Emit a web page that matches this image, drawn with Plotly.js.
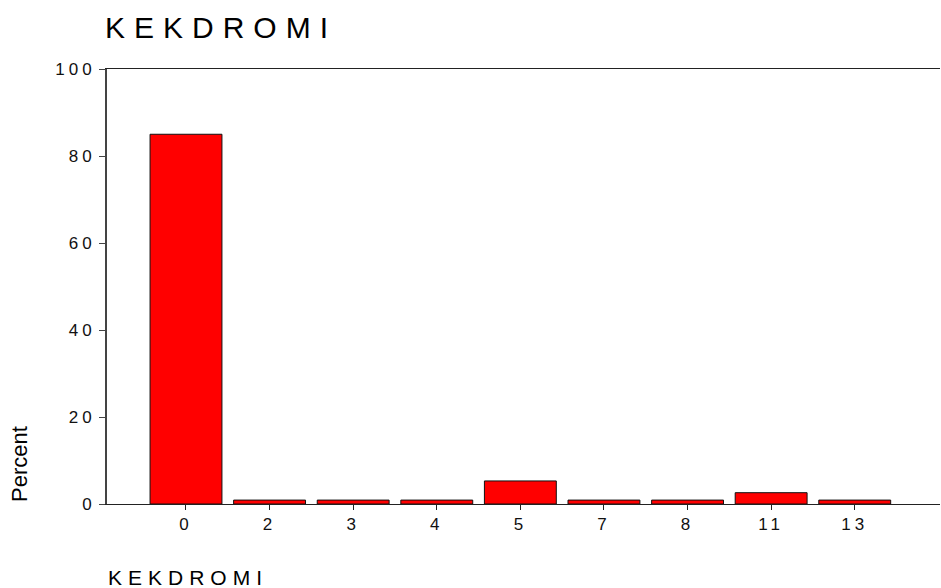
<!DOCTYPE html>
<html>
<head>
<meta charset="utf-8">
<script src="https://cdn.plot.ly/plotly-3.0.1.min.js"></script>
<style>
  html, body { margin: 0; padding: 0; background: #fff; }
  #chart { width: 941px; height: 588px; }
  .ytick text, .xtick text { letter-spacing: 4px; }
</style>
</head>
<body>
<div id="chart"></div>
<script>
const categories = ["0", "2", "3", "4", "5", "7", "8", "11", "13"];
const percents = [85.0, 0.9, 0.9, 0.9, 5.3, 0.9, 0.9, 2.6, 0.9];
const yTickValues = [0, 20, 40, 60, 80, 100];
const yTickLabels = ["0", "20", "40", "60", "80", "100"];
const chartTitle = "KEKDROMI";
const xTitle = "KEKDROMI";
const yTitle = "Percent";

const font = "Arial, 'Liberation Sans', sans-serif";

const trace = {
  type: "bar",
  x: categories,
  y: percents,
  marker: { color: "#ff0000", line: { color: "#111111", width: 1 } },
  hoverinfo: "x+y"
};

const layout = {
  width: 941,
  height: 588,
  margin: { l: 107, r: 1, t: 69, b: 84 },
  paper_bgcolor: "#ffffff",
  plot_bgcolor: "#ffffff",
  showlegend: false,
  bargap: 0.14,
  font: { family: font, color: "#000000" },
  xaxis: {
    type: "category",
    range: [-0.945, 9.02],
    showgrid: false,
    zeroline: false,
    showline: true,
    linecolor: "#222222",
    linewidth: 1,
    mirror: true,
    ticks: "outside",
    ticklen: 5,
    tickcolor: "#222222",
    tickfont: { family: font, size: 17, color: "#111111" },
    fixedrange: true
  },
  yaxis: {
    range: [0, 100],
    tickvals: yTickValues,
    ticktext: yTickLabels,
    showgrid: false,
    zeroline: false,
    showline: true,
    linecolor: "#444444",
    linewidth: 2,
    ticks: "outside",
    ticklen: 6,
    tickcolor: "#444444",
    tickfont: { family: font, size: 17, color: "#111111" },
    fixedrange: true
  },
  annotations: [
    {
      text: chartTitle, xref: "paper", yref: "paper",
      x: 0, y: 1, xanchor: "left", yanchor: "bottom", xshift: 32, yshift: 23,
      showarrow: false, font: { family: font, size: 30, color: "#000000" }
    },
    {
      text: xTitle, xref: "paper", yref: "paper",
      x: 0, y: 0, xanchor: "left", yanchor: "top", xshift: 23, yshift: -60,
      showarrow: false, font: { family: font, size: 21, color: "#000000" }
    },
    {
      text: yTitle, xref: "paper", yref: "paper",
      x: 0, y: 0, xanchor: "center", yanchor: "bottom", xshift: -88, yshift: 0,
      textangle: -90,
      showarrow: false, font: { family: font, size: 22, color: "#000000" }
    }
  ]
};

Plotly.newPlot("chart", [trace], layout, { displayModeBar: false, staticPlot: true }).then(function () {
  const anns = document.querySelectorAll(".annotation-text");
  if (anns[0]) anns[0].style.letterSpacing = "9px";
  if (anns[1]) anns[1].style.letterSpacing = "6px";
});
</script>
</body>
</html>
